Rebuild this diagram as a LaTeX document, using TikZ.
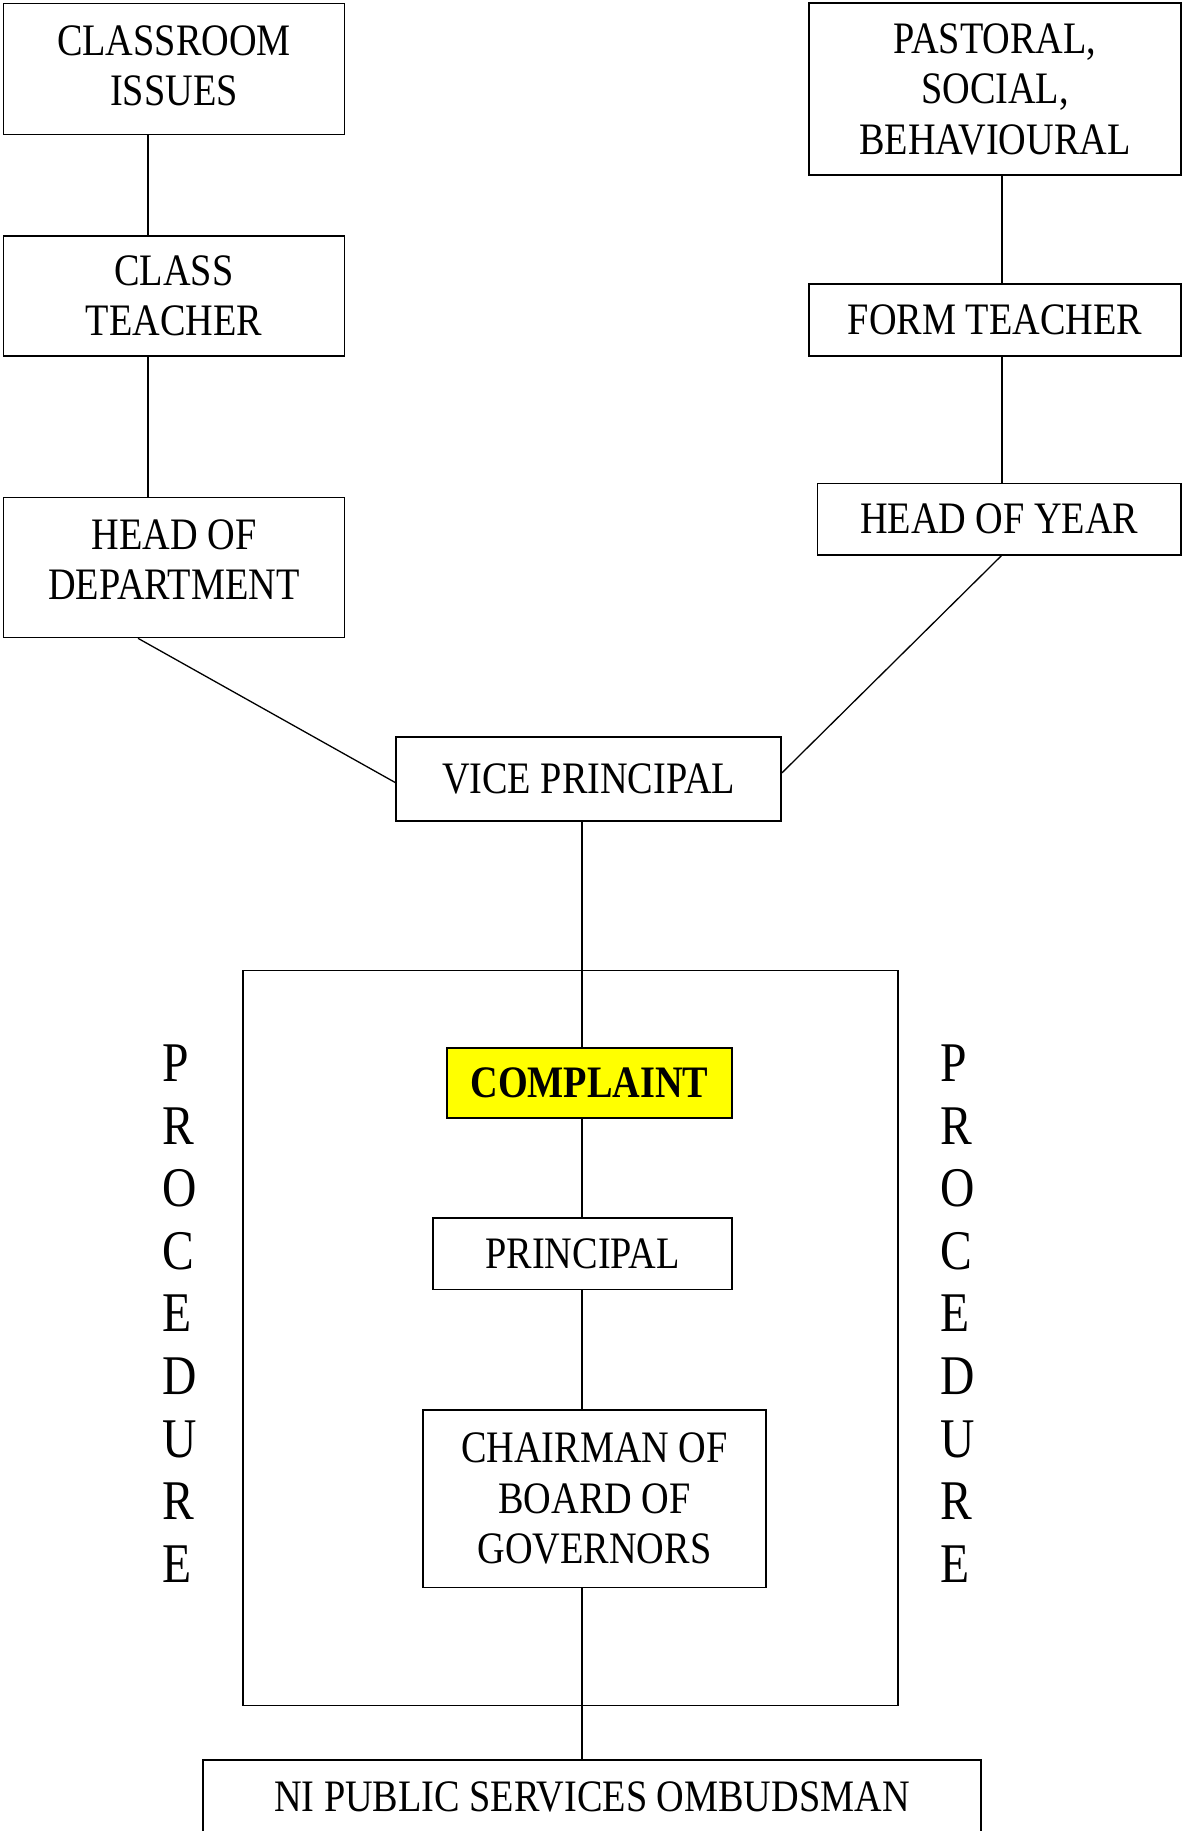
\documentclass[tikz,border=0pt]{standalone}
\usepackage{fontspec}
\setmainfont[FakeStretch=0.85]{Liberation Serif}
\begin{document}
\begin{tikzpicture}[x=1pt,y=-1pt,
  box/.style={draw=black,line width=1.6pt,fill=white,inner sep=0pt,align=center,
    font=\fontsize{45}{50.5}\selectfont},
  boxtext/.style={inner sep=0pt,align=center,font=\fontsize{45}{50.5}\selectfont},
  conn/.style={draw=black,line width=1.3pt},
  vert/.style={inner sep=0pt,align=left,anchor=west,font=\fontsize{56}{62.6}\selectfont}]
\useasboundingbox (0,0) rectangle (1182,1831);
\fill[white] (0,0) rectangle (1182,1831);
% outer procedure frame
\draw[line width=1.6pt] (243,970.6) rectangle (898,1705.5);
% nodes
\node[box,minimum width=341pt,minimum height=131pt,
  label={[boxtext,yshift=3pt]center:CLASSROOM\\ISSUES}] (ci) at (174,69) {};
\node[box,minimum width=341pt,minimum height=120pt] (ct) at (174,296) {CLASS\\TEACHER};
\node[box,minimum width=341pt,minimum height=140pt,
  label={[boxtext,yshift=8pt]center:HEAD OF\\DEPARTMENT}] (hod) at (174,567.5) {};
\node[box,minimum width=372pt,minimum height=171.5pt] (psb) at (995,89) {PASTORAL,\\SOCIAL,\\BEHAVIOURAL};
\node[box,minimum width=372pt,minimum height=72pt] (ft) at (995,320) {FORM TEACHER};
\node[box,minimum width=363.4pt,minimum height=71.4pt] (hoy) at (999.3,519.3) {HEAD OF YEAR};
\node[box,minimum width=385pt,minimum height=84pt] (vp) at (588.5,779) {VICE PRINCIPAL};
\node[box,fill={rgb,255:red,255;green,255;blue,0},minimum width=285pt,minimum height=70pt] (comp) at (589.5,1083) {\bfseries COMPLAINT};
\node[box,minimum width=299pt,minimum height=71.5pt] (prin) at (582.5,1253.7) {PRINCIPAL};
\node[box,minimum width=343pt,minimum height=177.5pt] (chair) at (594.5,1498.7) {CHAIRMAN OF\\BOARD OF\\GOVERNORS};
\node[box,minimum width=778pt,minimum height=73pt] (ni) at (592,1796.5) {NI PUBLIC SERVICES OMBUDSMAN};
\node[vert] (procL) at (162,1313.5) {P\\R\\O\\C\\E\\D\\U\\R\\E};
\node[vert] (procR) at (940,1313.5) {P\\R\\O\\C\\E\\D\\U\\R\\E};
\coordinate (spine) at (582,0);
\coordinate (leftc) at (148,0);
\coordinate (rightc) at (1002,0);
% connectors
\draw[conn] (ci.south -| leftc) -- (ct.north -| leftc);
\draw[conn] (ct.south -| leftc) -- (hod.north -| leftc);
\draw[conn] (psb.south -| rightc) -- (ft.north -| rightc);
\draw[conn] (ft.south -| rightc) -- (hoy.north -| rightc);
\draw[conn] ([xshift=-36pt]hod.south) -- ([yshift=-3.5pt]vp.west);
\draw[conn] ([xshift=2pt]hoy.south) -- ([yshift=6pt]vp.east);
\draw[conn] (vp.south -| spine) -- (comp.north -| spine);
\draw[conn] (comp.south -| spine) -- (prin.north -| spine);
\draw[conn] (prin.south -| spine) -- (chair.north -| spine);
\draw[conn] (chair.south -| spine) -- (ni.north -| spine);
\end{tikzpicture}
\end{document}
